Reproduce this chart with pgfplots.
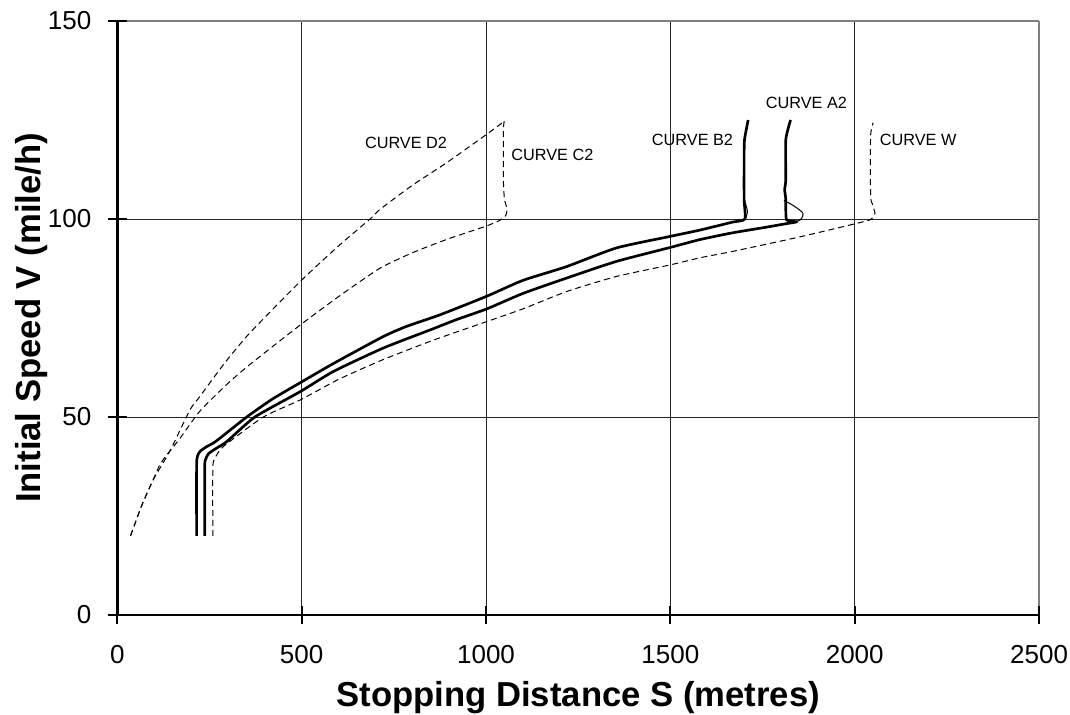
\documentclass[border=0pt]{standalone}
\usepackage{fontspec}
\setmainfont{Liberation Sans}
\usepackage{pgfplots}
\pgfplotsset{compat=1.18}

% curves: S (metres) against V (mile/h)
\pgfplotstableread{
S V
215 20
215 37.5
217 40
224 41.3
242 42.5
260 43.4
279 44.7
351 50
420 54.5
495 58.6
586 63.5
721 70.3
785 72.9
875 75.8
1002 80.5
1100 84.5
1219 88
1354 92.7
1499 95.6
1580 97.2
1668 99.2
1702 100
1700 105
1700 115
1701 120
1711 125
}\curveBtwo

\pgfplotstableread{
S V
237 20
237 37.2
239 39.2
247 40.7
265 41.9
297 43.8
373 50
496 56.4
586 61.5
721 67.4
857 72.3
920 74.6
1002 77.3
1100 81.2
1219 85.1
1354 89.3
1499 92.8
1580 94.8
1668 96.5
1758 97.9
1813 98.8
1843 99.3
1815 99.8
1813 105
1810 107.4
1813 110
1813 120
1826 125
}\curveAtwo

\pgfplotstableread{
S V
259 20
259 37.2
265 39.6
287 42.5
396 50
496 54.3
600 59.5
721 64.5
860 69.5
1002 74.1
1100 77.3
1219 81.7
1354 85.5
1499 88.4
1580 90.2
1668 91.8
1852 95.5
2001 98.8
2042 99.8
2053 100.8
2055 101.5
2047 104
2043 106
2043 121
2050 124.3
}\curveW

\pgfplotstableread{
S V
36 20
65 27.4
97 34.1
115 37.9
133 40.3
169 44.5
224 51.5
300 58.5
360 63.3
497 73.3
600 80.4
711 87.5
801 91.5
892 94.8
1000 98.2
1036 99.6
1053 100.8
1057 102.5
1050 105
1047 110
1047 122.5
1050 125
}\curveCtwo

\pgfplotstableread{
S V
36 20
65 27.4
97 34.1
142 41.3
197 51.8
224 55.2
290 63.5
359 71.2
497 84.3
600 93.2
688 100.2
712 102.4
800 108.5
893 114.2
1002 121.4
1047 124.5
}\curveDtwo

\begin{document}
\begin{tikzpicture}
\begin{axis}[
    scale only axis,
    width=691.3pt, height=445.5pt,
    xmin=0, xmax=2500, ymin=0, ymax=150,
    axis lines=left,
    axis line style={-, black, line width=2pt},
    xtick={0,500,1000,1500,2000}, extra x ticks={2500},
    ytick={0,50,100}, extra y ticks={150},
    grid=major,
    major grid style={black!85, line width=0.75pt},
    extra x tick style={grid=major, major grid style={gray, line width=1pt}},
    extra y tick style={grid=major, major grid style={gray, line width=1pt}},
    tick align=center, major tick length=14pt,
    every tick/.style={black, line width=1.5pt},
    tick label style={font=\fontsize{19.5pt}{23pt}\selectfont},
    xticklabel style={yshift=-12pt},
    yticklabel style={xshift=-9pt},
    /pgf/number format/assume math mode=true,
    /pgf/number format/1000 sep={},
    xlabel={Stopping Distance S (metres)},
    ylabel={Initial Speed V (mile/h)},
    every axis x label/.style={at={(axis description cs:0.5,-0.1532)}, anchor=base,
        font=\fontsize{26pt}{30pt}\selectfont\bfseries},
    every axis y label/.style={at={(axis description cs:-0.083,0.5)}, rotate=90, anchor=base,
        font=\fontsize{26pt}{30pt}\selectfont\bfseries},
    clip=false,
]
\addplot[black, line width=2pt, line join=round, smooth, tension=0.35] table {\curveBtwo};
\addplot[black, line width=2pt, line join=round, smooth, tension=0.35] table {\curveAtwo};
\addplot[black, line width=0.75pt, dash pattern=on 4.5pt off 3pt, smooth, tension=0.35] table {\curveW};
\addplot[black, line width=0.75pt, dash pattern=on 4.5pt off 3pt, smooth, tension=0.35] table {\curveCtwo};
\addplot[black, line width=0.75pt, dash pattern=on 4.5pt off 3pt, smooth, tension=0.35] table {\curveDtwo};
\addplot[black, line width=0.75pt, smooth] coordinates {(1700,104.9) (1709,102) (1704,100.2)};
\addplot[black, line width=0.75pt, smooth] coordinates {(1808,104.7) (1835,103.3) (1859,101.5) (1853,99.8) (1830,99.2)};

\begin{scope}[every node/.style={inner sep=0pt, font=\fontsize{12.2pt}{14pt}\selectfont}]
\node at (axis cs:783,119.3) {CURVE D2};
\node at (axis cs:1180,116.3) {CURVE C2};
\node at (axis cs:1560,120.1) {CURVE B2};
\node at (axis cs:1869,129.2) {CURVE A2};
\node at (axis cs:2172,119.9) {CURVE W};
\end{scope}
\end{axis}
\pgfresetboundingbox
\path[use as bounding box] (-88pt,-74.25pt) rectangle (714.5pt,461.25pt);
\end{tikzpicture}
\end{document}
